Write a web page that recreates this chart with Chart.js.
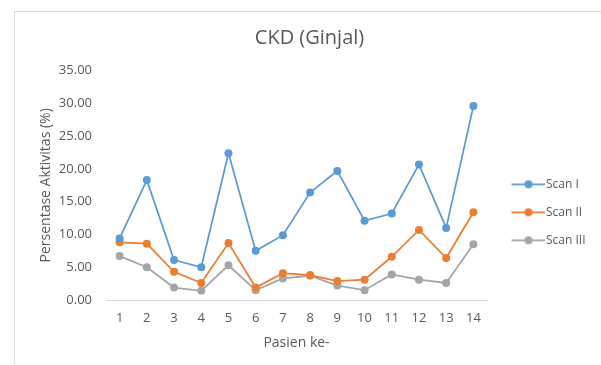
<!DOCTYPE html>
<html>
<head>
<meta charset="utf-8">
<script src="https://cdn.jsdelivr.net/npm/chart.js@4.4.1/dist/chart.umd.min.js"></script>
<style>
  html, body { margin: 0; padding: 0; background: #ffffff; }
  #wrap { width: 601px; height: 365px; position: relative; }
</style>
</head>
<body>
<div id="wrap"><canvas id="c"></canvas></div>
<script>
const categories = ['1','2','3','4','5','6','7','8','9','10','11','12','13','14'];
const scan1 = [9.4, 18.3, 6.1, 5.0, 22.4, 7.5, 9.9, 16.4, 19.7, 12.1, 13.2, 20.7, 11.0, 29.6];
const scan2 = [8.8, 8.6, 4.3, 2.6, 8.7, 1.9, 4.1, 3.8, 2.9, 3.1, 6.6, 10.7, 6.4, 13.4];
const scan3 = [6.7, 5.0, 1.9, 1.4, 5.3, 1.5, 3.3, 3.7, 2.2, 1.5, 3.9, 3.1, 2.6, 8.5];
const seriesNames = ['Scan I', 'Scan II', 'Scan III'];
const colors = ['#5B9BD5', '#ED7D31', '#A5A5A5'];

const FONT = "'Open Sans', 'Liberation Sans', sans-serif";
const TEXT = '#595959';

function legendIcon(color) {
  const c = document.createElement('canvas');
  c.width = 46; c.height = 12;
  const g = c.getContext('2d');
  g.strokeStyle = color; g.lineWidth = 1.75;
  g.beginPath(); g.moveTo(13, 6); g.lineTo(46, 6); g.stroke();
  g.fillStyle = color;
  g.beginPath(); g.arc(30, 6, 4, 0, Math.PI * 2); g.fill();
  return c;
}
const icons = colors.map(legendIcon);

const frame = {
  id: 'frame',
  beforeDraw(chart) {
    const ctx = chart.ctx;
    ctx.save();
    ctx.strokeStyle = '#d9d9d9';
    ctx.lineWidth = 1;
    ctx.strokeRect(14.5, 11.5, 700, 700);
    ctx.restore();
  }
};

const data = {
  labels: categories,
  datasets: [scan1, scan2, scan3].map((vals, i) => ({
    label: seriesNames[i],
    data: vals,
    borderColor: colors[i],
    backgroundColor: colors[i],
    borderWidth: 1.75,
    pointRadius: 4,
    pointHoverRadius: 4,
    pointBorderWidth: 0,
    pointStyle: 'circle',
    tension: 0,
    fill: false
  }))
};

new Chart(document.getElementById('c'), {
  type: 'line',
  data,
  plugins: [frame],
  options: {
    responsive: true,
    maintainAspectRatio: false,
    animation: false,
    layout: { padding: { left: 32, right: 14, top: 0, bottom: 0 } },
    plugins: {
      title: {
        display: true,
        text: 'CKD (Ginjal)',
        color: TEXT,
        font: { family: FONT, size: 20, weight: 'normal', lineHeight: 1.2 },
        padding: { top: 26.3, bottom: 20.4 }
      },
      legend: {
        position: 'right',
        align: 'start',
        maxWidth: 100,
        title: { display: true, text: '', font: { family: FONT, size: 12, lineHeight: 1.2 }, padding: { top: 147.9, bottom: 0 } },
        labels: {
          usePointStyle: true,
          pointStyleWidth: 37,
          padding: 16,
          color: TEXT,
          font: { family: FONT, size: 12 },
          generateLabels(chart) {
            const items = Chart.defaults.plugins.legend.labels.generateLabels(chart);
            items.forEach((it, i) => { it.pointStyle = icons[i]; });
            return items;
          }
        }
      },
      tooltip: { enabled: false }
    },
    scales: {
      x: {
        offset: true,
        grid: { display: false, drawTicks: false },
        border: { display: true, color: '#d9d9d9', width: 1 },
        ticks: { color: TEXT, font: { family: FONT, size: 13 }, padding: 10, maxRotation: 0 },
        title: { display: true, text: 'Pasien ke-', color: TEXT, font: { family: FONT, size: 14 }, padding: { top: 0, bottom: 13.3 } },
        afterFit(s) { s.height = 65; }
      },
      y: {
        min: 0,
        max: 35,
        grid: { display: false, drawTicks: false },
        border: { display: false },
        ticks: { stepSize: 5, color: TEXT, font: { family: FONT, size: 13 }, padding: 14, callback: v => Number(v).toFixed(2) },
        title: { display: true, text: 'Persentase Aktivitas (%)', color: TEXT, font: { family: FONT, size: 14 }, padding: { top: 5.6, bottom: 0 } },
        afterFit(s) { s.width = 74; }
      }
    }
  }
});
</script>
</body>
</html>
